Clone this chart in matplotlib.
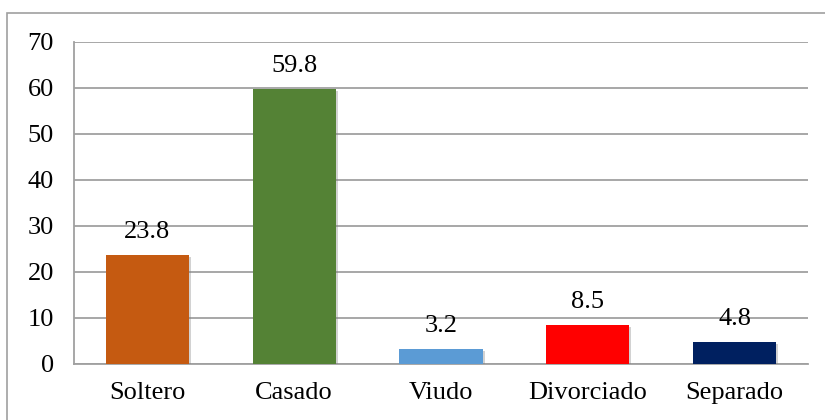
import matplotlib
matplotlib.use("Agg")
import matplotlib.pyplot as plt
from matplotlib.patches import Rectangle
import matplotlib.patheffects as pe

categories = ["Soltero", "Casado", "Viudo", "Divorciado", "Separado"]
values = [23.8, 59.8, 3.2, 8.5, 4.8]
labels = ["23.8", "59.8", "3.2", "8.5", "4.8"]
colors = ["#C55A11", "#548235", "#5B9BD5", "#FF0000", "#002060"]
yticks = [0, 10, 20, 30, 40, 50, 60, 70]

plt.rcParams['font.family'] = ['Liberation Serif', 'DejaVu Serif']

fig = plt.figure(figsize=(8.25, 4.2), dpi=100)
ax = fig.add_axes([74/825, 56/420, (808-74)/825, (364-42)/420])

fig.patches.append(Rectangle((7/825, -0.1), 1.1, 1 - 13/420 + 0.1,
                             transform=fig.transFigure, fill=False,
                             edgecolor="#A0A0A0", linewidth=1.2))

x = range(len(categories))
bars = ax.bar(x, values, width=0.566, color=colors, zorder=3)
for b in bars:
    b.set_path_effects([pe.SimplePatchShadow(offset=(1.5, -1.5), shadow_rgbFace="#808080", alpha=0.35),
                        pe.Normal()])
for b, lab in zip(bars, labels):
    ax.annotate(lab, (b.get_x() + b.get_width()/2, b.get_height()),
                xytext=(0, 8.5), textcoords="offset points",
                ha="center", va="bottom", fontsize=19)

ax.set_xlim(-0.5, len(categories) - 0.5)
ax.set_ylim(0, 70)
ax.set_yticks(yticks)
ax.set_xticks(list(x))
ax.set_xticklabels(categories)
ax.tick_params(axis="both", length=0, labelsize=19)
ax.tick_params(axis="y", pad=14.5)
ax.tick_params(axis="x", pad=13)
ax.yaxis.grid(True, color="#A0A0A0", linewidth=1.3, zorder=0)
ax.set_axisbelow(True)
for s in ["top", "right"]:
    ax.spines[s].set_visible(False)
ax.spines["left"].set_color("#A0A0A0")
ax.spines["bottom"].set_color("#A0A0A0")
ax.spines["left"].set_linewidth(1.3)
ax.spines["bottom"].set_linewidth(1.3)

fig.savefig("out.png", dpi=100)
